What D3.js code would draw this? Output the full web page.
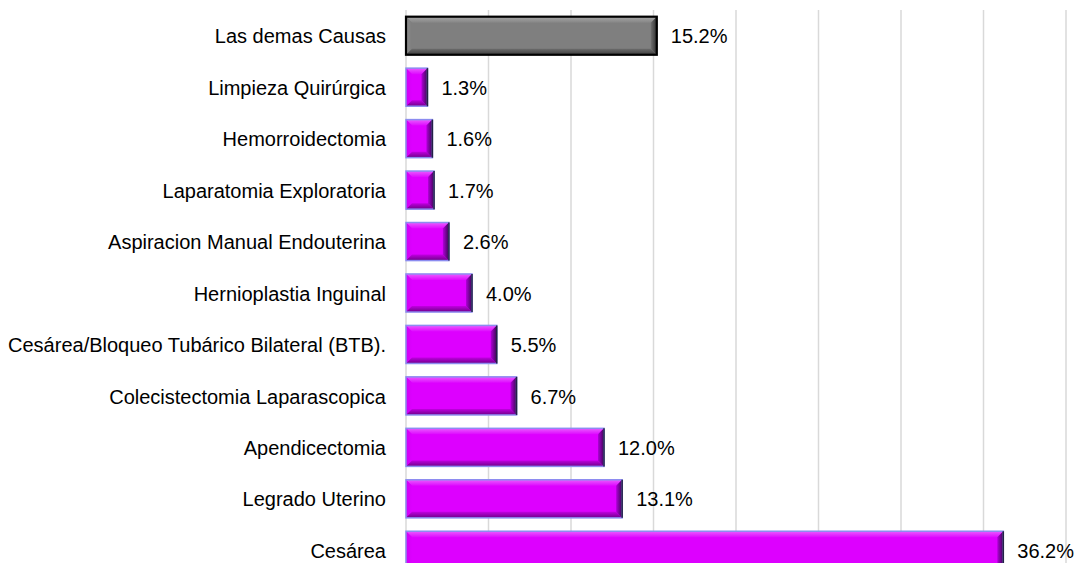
<!DOCTYPE html>
<html>
<head>
<meta charset="utf-8">
<script src="https://cdn.jsdelivr.net/npm/d3@7"></script>
<style>
  body { margin: 0; background: #fff; }
  svg { display: block; }
</style>
</head>
<body>
<svg id="chart" width="1077" height="563"></svg>
<script>
// data (top row first)
var categories = [
    'Las demas Causas',
    'Limpieza Quirúrgica',
    'Hemorroidectomia',
    'Laparatomia Exploratoria',
    'Aspiracion Manual Endouterina',
    'Hernioplastia Inguinal',
    'Cesárea/Bloqueo Tubárico Bilateral (BTB).',
    'Colecistectomia Laparascopica',
    'Apendicectomia',
    'Legrado Uterino',
    'Cesárea'
];
var values = [15.2, 1.3, 1.6, 1.7, 2.6, 4.0, 5.5, 6.7, 12.0, 13.1, 36.2];
var xTicks = [0, 5, 10, 15, 20, 25, 30, 35, 40];

var rows = categories.map(function(c, i) { return {name: c, value: values[i]}; });

var svg = d3.select('#chart');
var svgHeight = +svg.attr('height');

var x = d3.scaleLinear().domain([0, 40]).range([406, 1066]);
var y = d3.scaleBand()
    .domain(categories)
    .range([10, 576])
    .paddingInner(0.26)
    .paddingOuter(0.13);

// gradients for the bevel look
var defs = svg.append('defs');
function grad(id, x2, y2, c1, c2) {
    var g = defs.append('linearGradient').attr('id', id)
        .attr('x1', 0).attr('y1', 0).attr('x2', x2).attr('y2', y2);
    g.append('stop').attr('offset', '0%').attr('stop-color', c1);
    g.append('stop').attr('offset', '100%').attr('stop-color', c2);
}
grad('pTop', 0, 1, '#ea5cff', '#de0aff');
grad('pBot', 0, 1, '#c000e0', '#6e0088');
grad('pRight', 1, 0, '#b000d8', '#3a0855');
grad('pLeft', 1, 0, '#d200f4', '#dc00ff');
grad('gTop', 0, 1, '#a8a8a8', '#858585');
grad('gBot', 0, 1, '#6c6c6c', '#3e3e3e');
grad('gRight', 1, 0, '#707070', '#2e2e2e');
grad('gLeft', 1, 0, '#8a8a8a', '#7e7e7e');

// gridlines
svg.append('g')
    .selectAll('line')
    .data(xTicks)
    .join('line')
    .attr('x1', d => x(d)).attr('x2', d => x(d))
    .attr('y1', 10).attr('y2', svgHeight)
    .attr('stroke', '#d9d9d9')
    .attr('stroke-width', 1.5);

var font = 'Liberation Sans, Arial, sans-serif';

// category labels
svg.append('g')
    .selectAll('text')
    .data(rows)
    .join('text')
    .attr('x', 386)
    .attr('y', d => y(d.name) + y.bandwidth() / 2)
    .attr('dy', '0.38em')
    .attr('text-anchor', 'end')
    .style('font-family', font)
    .style('font-size', '20px')
    .style('fill', '#000')
    .text(d => d.name);

// beveled bars
var bev = 6;
var barG = svg.append('g').selectAll('g')
    .data(rows)
    .join('g');

function isOther(d) { return d.name === 'Las demas Causas'; }

barG.append('rect')
    .attr('x', x(0))
    .attr('y', d => y(d.name))
    .attr('width', d => x(d.value) - x(0))
    .attr('height', y.bandwidth())
    .attr('fill', d => isOther(d) ? '#7f7f7f' : '#dd00ff');

function pts(a) { return a.map(p => p.join(',')).join(' '); }

// top bevel
barG.append('polygon')
    .attr('points', d => {
        var x0 = x(0), x1 = x(d.value), y0 = y(d.name);
        return pts([[x0, y0], [x1, y0], [x1 - bev, y0 + bev], [x0 + bev, y0 + bev]]);
    })
    .attr('fill', d => isOther(d) ? 'url(#gTop)' : 'url(#pTop)');
// left bevel
barG.append('polygon')
    .attr('points', d => {
        var x0 = x(0), y0 = y(d.name), y1 = y0 + y.bandwidth();
        return pts([[x0, y0], [x0 + bev, y0 + bev], [x0 + bev, y1 - bev], [x0, y1]]);
    })
    .attr('fill', d => isOther(d) ? 'url(#gLeft)' : 'url(#pLeft)');
// bottom bevel
barG.append('polygon')
    .attr('points', d => {
        var x0 = x(0), x1 = x(d.value), y1 = y(d.name) + y.bandwidth();
        return pts([[x0, y1], [x0 + bev, y1 - bev], [x1 - bev, y1 - bev], [x1, y1]]);
    })
    .attr('fill', d => isOther(d) ? 'url(#gBot)' : 'url(#pBot)');
// right bevel
barG.append('polygon')
    .attr('points', d => {
        var x1 = x(d.value), y0 = y(d.name), y1 = y0 + y.bandwidth();
        return pts([[x1, y0], [x1, y1], [x1 - bev, y1 - bev], [x1 - bev, y0 + bev]]);
    })
    .attr('fill', d => isOther(d) ? 'url(#gRight)' : 'url(#pRight)');

// outlines
barG.append('rect')
    .attr('x', x(0))
    .attr('y', d => y(d.name))
    .attr('width', d => x(d.value) - x(0))
    .attr('height', y.bandwidth())
    .attr('fill', 'none')
    .attr('stroke', d => isOther(d) ? '#000' : '#8c8cf0')
    .attr('stroke-width', d => isOther(d) ? 2.2 : 1.5);

// dark end line on purple bars
barG.filter(d => !isOther(d))
    .append('line')
    .attr('x1', d => x(d.value)).attr('x2', d => x(d.value))
    .attr('y1', d => y(d.name)).attr('y2', d => y(d.name) + y.bandwidth())
    .attr('stroke', '#222244')
    .attr('stroke-width', 1.5);

// value labels
svg.append('g')
    .selectAll('text')
    .data(rows)
    .join('text')
    .attr('x', d => x(d.value) + 14)
    .attr('y', d => y(d.name) + y.bandwidth() / 2)
    .attr('dy', '0.38em')
    .style('font-family', font)
    .style('font-size', '20px')
    .style('fill', '#000')
    .text(d => d.value.toFixed(1) + '%');
</script>
</body>
</html>
